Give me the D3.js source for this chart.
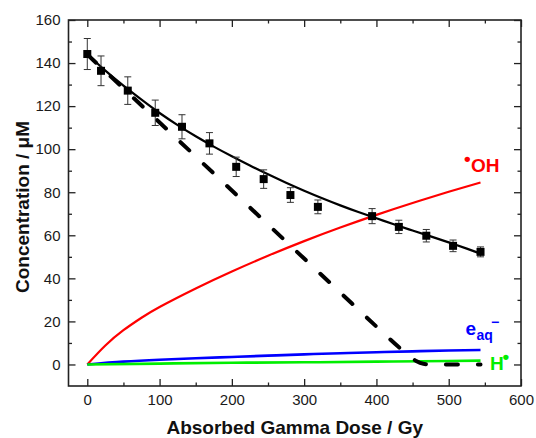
<!DOCTYPE html>
<html>
<head>
    <title>Concentration vs Absorbed Gamma Dose</title>
    <script src="https://d3js.org/d3.v7.min.js"></script>
    <style>
        body {
            margin: 0;
            padding: 0;
            background-color: #fff;
            font-family: Arial, "Liberation Sans", sans-serif;
        }
        .axis text {
            fill: #1a1a1a;
            font-family: Arial, "Liberation Sans", sans-serif;
            font-size: 15px;
        }
        .axis path {
            stroke: none;
        }
        .axis line {
            stroke: #222;
            stroke-width: 1.3;
        }
        .axis-title {
            font-family: Arial, "Liberation Sans", sans-serif;
            font-weight: bold;
            font-size: 19px;
            fill: #111;
        }
        .label {
            font-family: Arial, "Liberation Sans", sans-serif;
            font-weight: bold;
        }
    </style>
</head>
<body>
    <svg id="chart"></svg>
    <script>
        // measured points (squares with error bars)
        const doseMeasured = [0, 19, 56, 94, 131, 169, 206, 244, 281, 319, 394, 431, 469, 506, 544];
        const concMeasured = [144.2, 136.4, 127.2, 116.9, 110.4, 102.7, 91.8, 86.1, 78.7, 73.2, 68.9, 63.9, 59.8, 55.1, 52.3];
        const concError = [7.2, 6.9, 6.4, 5.9, 5.6, 5.0, 4.5, 4.3, 3.4, 3.2, 3.5, 3.1, 2.9, 2.7, 2.3];

        // fitted curve (solid black)
        const fitDose = [0, 25, 50, 75, 100, 125, 150, 175, 200, 225, 250, 275, 300, 325, 350, 375, 400, 425, 450, 475, 500, 525, 544];
        const fitConc = [144, 136.5, 129.5, 123, 116.8, 111.2, 106, 101.2, 96.7, 92.4, 88.3, 84.4, 80.7, 77.2, 73.9, 70.8, 67.9, 65, 62.2, 59.5, 56.7, 53.8, 51.5];

        // dashed black curve
        const dashDose = [0, 50, 100, 150, 200, 250, 300, 350, 400, 430, 445, 455, 465, 475, 544];
        const dashConc = [144, 128.2, 112.4, 96.6, 80.8, 65, 49.2, 33.4, 17.6, 8.3, 4.0, 1.6, 0.3, 0, 0];

        // radicals
        const radDose = [0, 25, 50, 75, 100, 150, 200, 250, 300, 350, 400, 450, 500, 544];
        const ohConc = [0, 8.8, 15.9, 21.7, 26.7, 35.3, 43.2, 50.5, 57.3, 63.6, 69.5, 75.0, 80.2, 84.5];
        const eaqDose = [0, 50, 100, 150, 200, 250, 300, 350, 400, 450, 500, 544];
        const eaqConc = [0, 1.3, 2.2, 2.9, 3.5, 4.1, 4.7, 5.2, 5.7, 6.1, 6.5, 6.7];
        const hDose = [0, 100, 200, 300, 400, 500, 544];
        const hConc = [0, 0.4, 0.8, 1.0, 1.3, 1.6, 1.8];

        const xTicks = [0, 100, 200, 300, 400, 500, 600];
        const yTicks = [0, 20, 40, 60, 80, 100, 120, 140, 160];

        const W = 536, H = 438;
        const margin = { top: 20, right: 15, bottom: 52, left: 68.5 };
        const width = W - margin.left - margin.right;
        const height = H - margin.top - margin.bottom;

        const svg = d3.select('#chart')
            .attr('width', W)
            .attr('height', H);

        const g = svg.append('g')
            .attr('transform', `translate(${margin.left},${margin.top})`);

        const x = d3.scaleLinear().domain([-26, 600]).range([0, width]);
        const y = d3.scaleLinear().domain([-10, 160]).range([height, 0]);

        const xMinor = d3.range(0, 601, 50).filter(d => d % 100 !== 0);
        const yMinor = d3.range(10, 160, 20);

        // axes, ticks point inwards
        g.append('g').attr('class', 'axis')
            .attr('transform', `translate(0,${height})`)
            .call(d3.axisBottom(x).tickValues(xTicks).tickSize(-7).tickPadding(8));
        g.append('g').attr('class', 'axis')
            .attr('transform', `translate(0,${height})`)
            .call(d3.axisBottom(x).tickValues(xMinor).tickSize(-3.5).tickFormat(''));
        g.append('g').attr('class', 'axis')
            .call(d3.axisTop(x).tickValues(xTicks).tickSize(-7).tickFormat(''));
        g.append('g').attr('class', 'axis')
            .call(d3.axisTop(x).tickValues(xMinor).tickSize(-3.5).tickFormat(''));

        g.append('g').attr('class', 'axis')
            .call(d3.axisLeft(y).tickValues(yTicks).tickSize(-7).tickPadding(8));
        g.append('g').attr('class', 'axis')
            .call(d3.axisLeft(y).tickValues(yMinor).tickSize(-3.5).tickFormat(''));
        g.append('g').attr('class', 'axis')
            .attr('transform', `translate(${width},0)`)
            .call(d3.axisRight(y).tickValues(yTicks).tickSize(-7).tickFormat(''));
        g.append('g').attr('class', 'axis')
            .attr('transform', `translate(${width},0)`)
            .call(d3.axisRight(y).tickValues(yMinor).tickSize(-3.5).tickFormat(''));

        // frame
        g.append('rect')
            .attr('width', width)
            .attr('height', height)
            .attr('fill', 'none')
            .attr('stroke', '#222')
            .attr('stroke-width', 1.6);

        const smooth = d3.line()
            .x(d => x(d[0]))
            .y(d => y(d[1]))
            .curve(d3.curveNatural);

        const line = d3.line()
            .x(d => x(d[0]))
            .y(d => y(d[1]))
            .curve(d3.curveMonotoneX);

        const zip = (a, b) => a.map((v, i) => [v, b[i]]);

        g.append('path')
            .datum(zip(radDose, ohConc))
            .attr('d', smooth)
            .attr('fill', 'none')
            .attr('stroke', '#ff0000')
            .attr('stroke-width', 2.2);

        g.append('path')
            .datum(zip(eaqDose, eaqConc))
            .attr('d', smooth)
            .attr('fill', 'none')
            .attr('stroke', '#0000ff')
            .attr('stroke-width', 2.6);

        g.append('path')
            .datum(zip(hDose, hConc))
            .attr('d', smooth)
            .attr('fill', 'none')
            .attr('stroke', '#00ee00')
            .attr('stroke-width', 2.6);

        g.append('path')
            .datum(zip(dashDose, dashConc))
            .attr('d', line)
            .attr('fill', 'none')
            .attr('stroke', '#000')
            .attr('stroke-width', 4)
            .attr('stroke-linecap', 'round')
            .attr('stroke-dasharray', '12,20');

        g.append('path')
            .datum(zip(fitDose, fitConc))
            .attr('d', smooth)
            .attr('fill', 'none')
            .attr('stroke', '#000')
            .attr('stroke-width', 2.2);

        // error bars
        const pts = doseMeasured.map((d, i) => ({ dose: d, conc: concMeasured[i], err: concError[i] }));
        const eb = g.selectAll('.err').data(pts).enter().append('g')
            .attr('stroke', '#333')
            .attr('stroke-width', 1);
        eb.append('line')
            .attr('x1', d => x(d.dose)).attr('x2', d => x(d.dose))
            .attr('y1', d => y(d.conc - d.err)).attr('y2', d => y(d.conc + d.err));
        eb.append('line')
            .attr('x1', d => x(d.dose) - 3.5).attr('x2', d => x(d.dose) + 3.5)
            .attr('y1', d => y(d.conc + d.err)).attr('y2', d => y(d.conc + d.err));
        eb.append('line')
            .attr('x1', d => x(d.dose) - 3.5).attr('x2', d => x(d.dose) + 3.5)
            .attr('y1', d => y(d.conc - d.err)).attr('y2', d => y(d.conc - d.err));

        g.selectAll('.sq').data(pts).enter().append('rect')
            .attr('x', d => x(d.dose) - 4)
            .attr('y', d => y(d.conc) - 4)
            .attr('width', 8)
            .attr('height', 8)
            .attr('fill', '#000');

        // axis titles
        svg.append('text')
            .attr('class', 'axis-title')
            .attr('x', margin.left + width / 2)
            .attr('y', 434)
            .attr('text-anchor', 'middle')
            .text('Absorbed Gamma Dose / Gy');

        svg.append('text')
            .attr('class', 'axis-title')
            .attr('transform', `translate(29,${margin.top + height / 2 + 4}) rotate(-90)`)
            .attr('text-anchor', 'middle')
            .text('Concentration / μM');

        // curve labels
        const oh = svg.append('text').attr('class', 'label').attr('fill', '#ff0000');
        oh.append('tspan').attr('x', 464).attr('y', 165).attr('font-size', 19).text('•');
        oh.append('tspan').attr('x', 471).attr('y', 172).attr('font-size', 19).text('OH');

        const eaq = svg.append('text').attr('class', 'label').attr('fill', '#0000ff');
        eaq.append('tspan').attr('x', 465.5).attr('y', 335).attr('font-size', 19).text('e');
        eaq.append('tspan').attr('x', 476.5).attr('y', 339.5).attr('font-size', 14).text('aq');
        eaq.append('tspan').attr('x', 491).attr('y', 327).attr('font-size', 14).text('−');

        const hl = svg.append('text').attr('class', 'label').attr('fill', '#00ee00');
        hl.append('tspan').attr('x', 490).attr('y', 369.5).attr('font-size', 19).text('H');
        hl.append('tspan').attr('x', 502.5).attr('y', 363).attr('font-size', 19).text('•');
    </script>
</body>
</html>
